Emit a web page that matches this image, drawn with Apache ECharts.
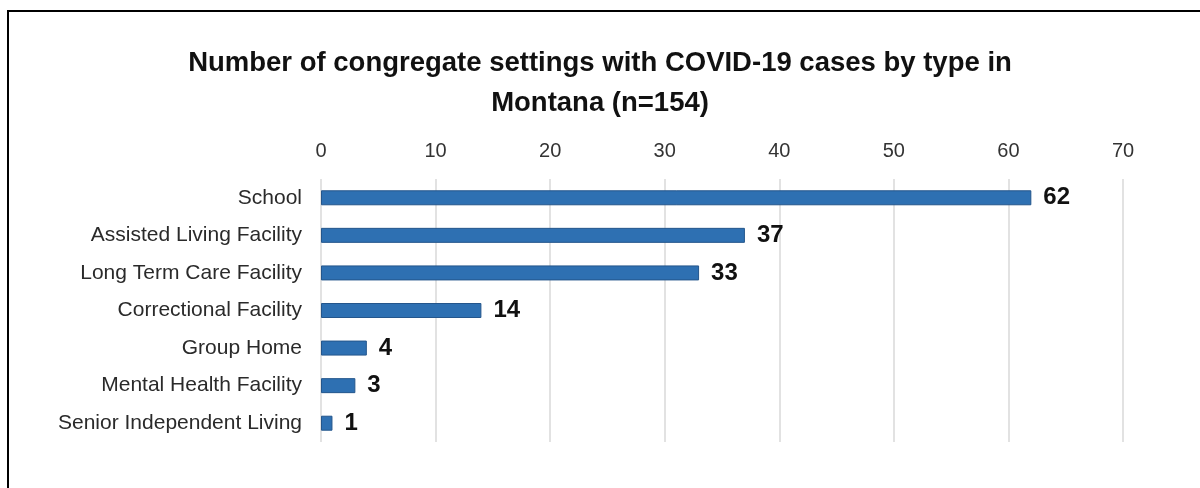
<!DOCTYPE html>
<html>
<head>
<meta charset="utf-8">
<script src="https://cdn.jsdelivr.net/npm/echarts@6/dist/echarts.min.js"></script>
<style>
html, body { margin: 0; padding: 0; background: #fff; overflow: hidden; }
#frame { position: absolute; left: 7px; top: 10px; width: 1400px; height: 700px; border: 2px solid #000; }
#chart { position: absolute; left: 0; top: 0; width: 1200px; height: 488px; }
</style>
</head>
<body>
<div id="frame"></div>
<div id="chart"></div>
<script>
// 数据
var categories = ['School', 'Assisted Living Facility', 'Long Term Care Facility', 'Correctional Facility',
    'Group Home', 'Mental Health Facility', 'Senior Independent Living'];
var counts = [62, 37, 33, 14, 4, 3, 1];
var xTicks = [0, 10, 20, 30, 40, 50, 60, 70];

var font = 'Liberation Sans, Arial, sans-serif';
var myChart = echarts.init(document.getElementById('chart'));
var option = {
    animation: false,
    title: {
        text: 'Number of congregate settings with COVID-19 cases by type in\nMontana (n=154)',
        left: 'center',
        top: 38,
        textStyle: {
            fontFamily: font,
            fontSize: 27.5,
            fontWeight: 'bold',
            color: '#111',
            lineHeight: 40
        }
    },
    grid: {//左边留给类目文字
        left: 321,
        right: 77,
        top: 179,
        bottom: 46
    },
    xAxis: {
        type: 'value',
        position: 'top',
        min: xTicks[0],
        max: xTicks[xTicks.length - 1],
        interval: 10,
        axisLine: { show: false },
        axisTick: { show: false },
        axisLabel: {
            margin: 18,
            fontFamily: font,
            fontSize: 20,
            color: '#333'
        },
        splitLine: {
            show: true,
            lineStyle: { color: '#d9d9d9', width: 1.5 }
        }
    },
    yAxis: {
        type: 'category',
        inverse: true,
        data: categories,
        axisLine: { show: false },
        axisTick: { show: false },
        axisLabel: {
            margin: 19,
            fontFamily: font,
            fontSize: 21,
            color: '#2a2a2a'
        }
    },
    series: [{
        type: 'bar',
        data: counts,
        barWidth: 15,
        itemStyle: {
            color: '#2e70b2',
            borderColor: '#24568c',
            borderWidth: 1
        },
        label: {
            show: true,
            position: 'right',
            distance: 12,
            fontFamily: font,
            fontSize: 24,
            fontWeight: 'bold',
            color: '#111'
        }
    }]
};
myChart.setOption(option);
</script>
</body>
</html>
